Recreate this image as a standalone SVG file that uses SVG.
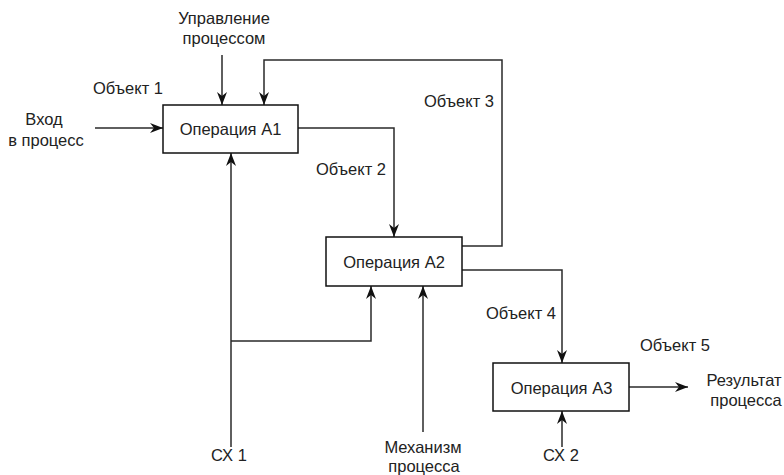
<svg xmlns="http://www.w3.org/2000/svg" width="784" height="475" viewBox="0 0 784 475">
  <style>
    text { font-family: "Liberation Sans", Arial, sans-serif; font-size: 16.5px; fill: #222; }
    .c { text-anchor: middle; }
    .box { fill: #fff; stroke: #111; stroke-width: 1.5; }
    .ln { fill: none; stroke: #2a2a2a; stroke-width: 1.5; }
  </style>
  <defs>
    <marker id="arr" markerUnits="userSpaceOnUse" markerWidth="16" markerHeight="12" viewBox="-14 -6 16 12" refX="0" refY="0" orient="auto">
      <path d="M0,0 L-13,-5 L-9,0 L-13,5 Z" fill="#111"/>
    </marker>
  </defs>
  <rect width="784" height="475" fill="#fff"/>

  <g id="connectors">
    <path class="ln" d="M95,128 H163" marker-end="url(#arr)"/>
    <path class="ln" d="M222,55 V105" marker-end="url(#arr)"/>
    <path class="ln" d="M462,246 H502 V60 H264 V105" marker-end="url(#arr)"/>
    <path class="ln" d="M298,128 H394 V237" marker-end="url(#arr)"/>
    <path class="ln" d="M231,447 V153" marker-end="url(#arr)"/>
    <path class="ln" d="M231,341 H371 V286" marker-end="url(#arr)"/>
    <path class="ln" d="M423,432 V286" marker-end="url(#arr)"/>
    <path class="ln" d="M462,270 H562 V363" marker-end="url(#arr)"/>
    <path class="ln" d="M562,447 V411" marker-end="url(#arr)"/>
    <path class="ln" d="M629,387 H688" marker-end="url(#arr)"/>
  </g>

  <g id="A1">
    <rect class="box" x="163" y="105" width="135" height="48"/>
    <text class="c" x="230.5" y="135">Операция А1</text>
  </g>
  <g id="A2">
    <rect class="box" x="326" y="237" width="136" height="49"/>
    <text class="c" x="394" y="268">Операция А2</text>
  </g>
  <g id="A3">
    <rect class="box" x="493" y="363" width="136" height="48"/>
    <text class="c" x="561.5" y="394">Операция А3</text>
  </g>

  <g id="labels">
    <text class="c" x="224" y="24">Управление</text>
    <text class="c" x="224" y="44">процессом</text>
    <text x="93" y="94">Объект 1</text>
    <text class="c" x="44" y="125">Вход</text>
    <text class="c" x="46" y="146">в процесс</text>
    <text x="424" y="107">Объект 3</text>
    <text x="316" y="175">Объект 2</text>
    <text x="486" y="319">Объект 4</text>
    <text x="640" y="351">Объект 5</text>
    <text class="c" x="744" y="386">Результат</text>
    <text class="c" x="746" y="406">процесса</text>
    <text class="c" x="229" y="461">СХ 1</text>
    <text class="c" x="423" y="453">Механизм</text>
    <text class="c" x="424" y="472">процесса</text>
    <text class="c" x="561" y="461">СХ 2</text>
  </g>
</svg>
